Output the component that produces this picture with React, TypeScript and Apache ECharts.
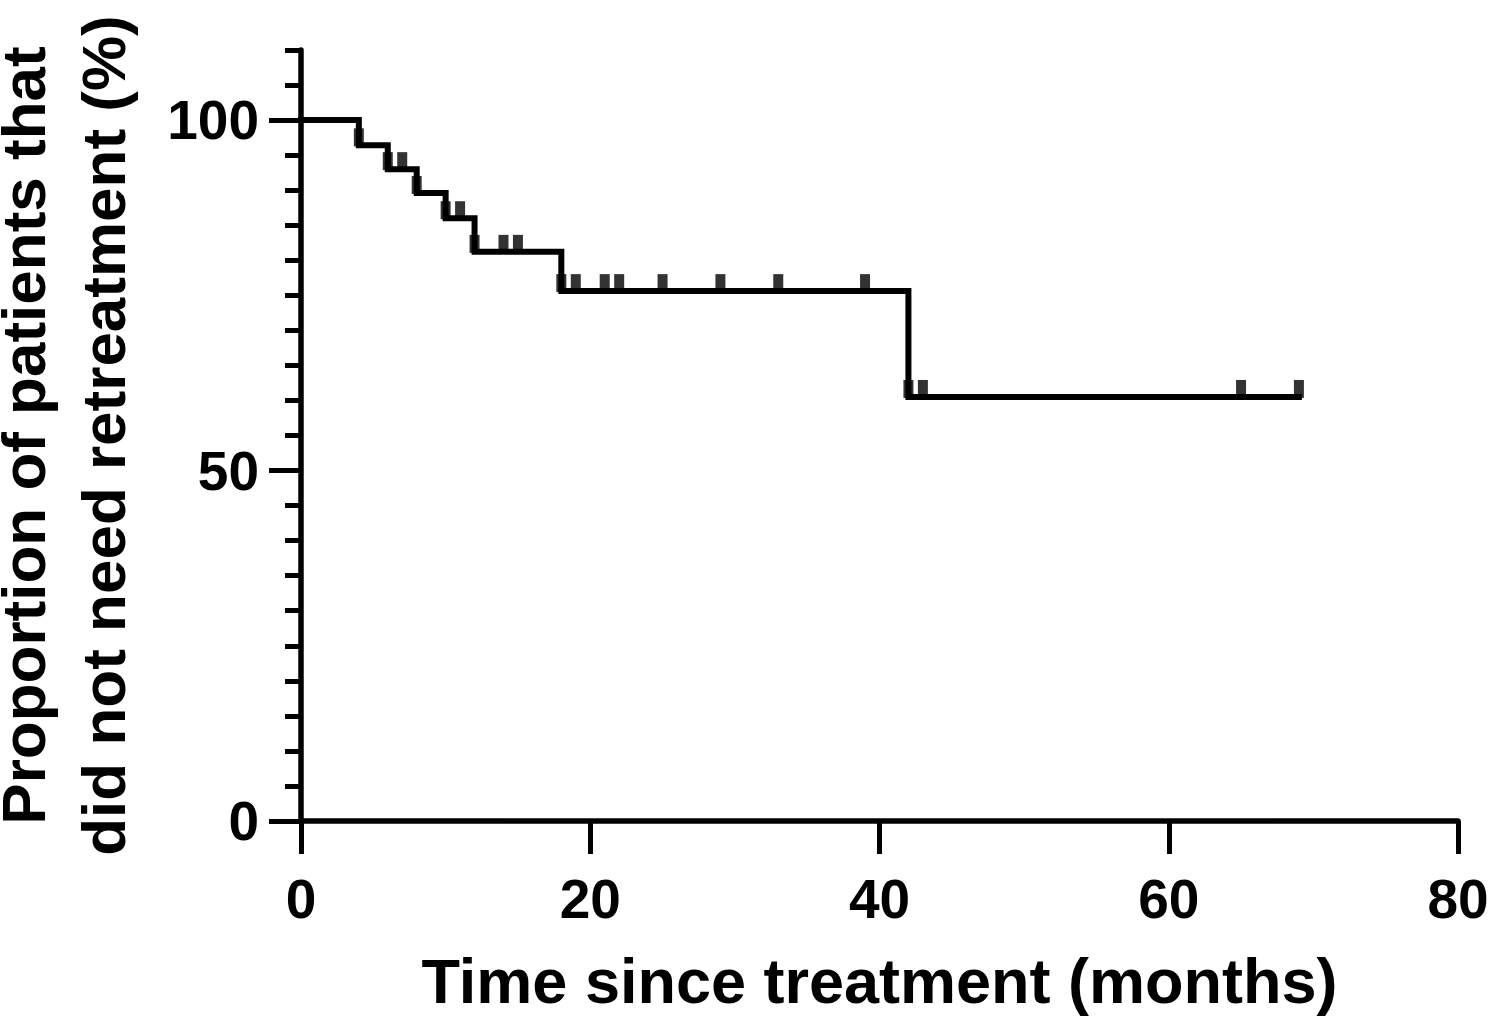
import React, { useEffect, useRef } from "react";
import * as echarts from "echarts";

// Kaplan-Meier step curve: event times (months) and survival (%)
const stepTimes = [0, 4, 6, 8, 10, 12, 18, 42, 69];
const stepValues = [100, 96.4, 93.0, 89.6, 86.0, 81.2, 75.6, 60.5, 60.5];

// Censor marks: time (months) and level (%)
const censorTimes = [4, 6, 7, 8, 10, 11, 12, 14, 15, 18, 19, 21, 22, 25, 29, 33, 39, 42, 43, 65, 69];
const censorValues = [
  96.4, 93.0, 93.0, 89.6, 86.0, 86.0, 81.2, 81.2, 81.2, 75.6, 75.6, 75.6, 75.6, 75.6, 75.6, 75.6, 75.6,
  60.5, 60.5, 60.5, 60.5,
];

const yMajorTicks = [0, 50, 100];
const yMinorTicks = [5, 10, 15, 20, 25, 30, 35, 40, 45, 55, 60, 65, 70, 75, 80, 85, 90, 95, 105, 110];
const xTicks = [0, 20, 40, 60, 80];

const xTitle = "Time since treatment (months)";
const yTitle = "Proportion of patients that\ndid not need retreatment (%)";

const FONT = "'Liberation Sans', Arial, sans-serif";

export default function App() {
  const ref = useRef<HTMLDivElement>(null);
  useEffect(() => {
    if (!ref.current) return;
    document.body.style.margin = "0";
    const chart = echarts.init(ref.current, undefined, { renderer: "svg" });
    const black = "#000";
    chart.setOption({
      animation: false,
      backgroundColor: "#fff",
      grid: {
        left: 301,
        right: 31,
        top: 50,
        bottom: 204,
        containLabel: false,
        outerBoundsMode: "none",
      },
      xAxis: {
        type: "value",
        min: 0,
        max: 80,
        interval: 20,
        name: xTitle,
        nameLocation: "middle",
        nameGap: 128,
        nameTextStyle: { fontFamily: FONT, fontWeight: "bold", fontSize: 63, color: black },
        axisLine: { show: true, lineStyle: { color: black, width: 5.5 } },
        axisTick: { show: true, length: 33, lineStyle: { color: black, width: 5 }, customValues: xTicks },
        axisLabel: {
          customValues: xTicks,
          margin: 50,
          fontFamily: FONT,
          fontWeight: "bold",
          fontSize: 55,
          color: black,
        },
        splitLine: { show: false },
      },
      yAxis: [
        {
          type: "value",
          min: 0,
          max: 110,
          interval: 5,
          name: yTitle,
          nameLocation: "middle",
          nameRotate: 90,
          nameGap: 158,
          nameTextStyle: {
            fontFamily: FONT,
            fontWeight: "bold",
            fontSize: 62,
            lineHeight: 80,
            color: black,
          },
          axisLine: { show: true, onZero: false, lineStyle: { color: black, width: 5.5 } },
          axisTick: { show: true, length: 32, lineStyle: { color: black, width: 5 }, customValues: yMajorTicks },
          axisLabel: {
            customValues: yMajorTicks,
            margin: 42,
            fontFamily: FONT,
            fontWeight: "bold",
            fontSize: 55,
            color: black,
          },
          splitLine: { show: false },
        },
        {
          type: "value",
          min: 0,
          max: 110,
          interval: 5,
          position: "left",
          axisLine: { show: false },
          axisTick: { show: true, length: 16, lineStyle: { color: black, width: 5 }, customValues: yMinorTicks },
          axisLabel: { show: false },
          splitLine: { show: false },
        },
      ],
      series: [
        {
          type: "line",
          step: "end",
          data: stepTimes.map((t, i) => [t, stepValues[i]]),
          symbol: "none",
          lineStyle: { color: black, width: 6, cap: "square", join: "miter" },
          z: 3,
        },
        {
          type: "scatter",
          data: censorTimes.map((t, i) => [t, censorValues[i]]),
          symbol: "rect",
          symbolSize: [10, 18],
          symbolOffset: [0, -8],
          itemStyle: { color: black },
          z: 4,
        },
      ],
    });
    return () => chart.dispose();
  }, []);
  return <div ref={ref} style={{ width: 1489, height: 1025 }} />;
}
